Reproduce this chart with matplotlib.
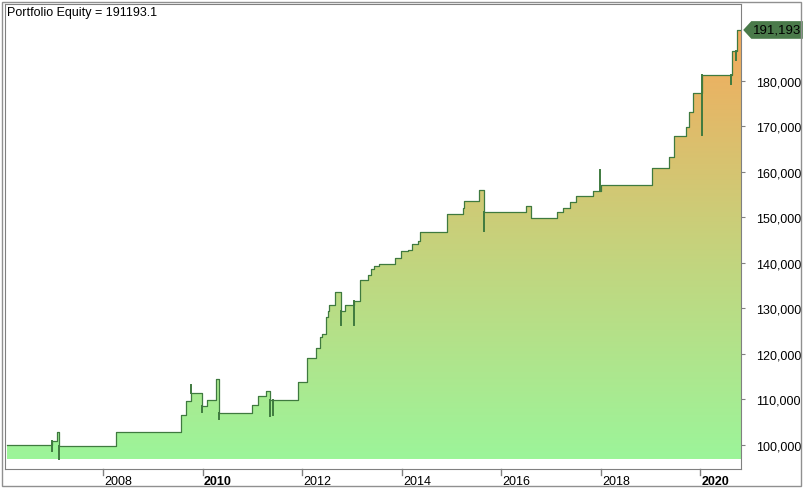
import matplotlib
matplotlib.use("Agg")
import matplotlib.pyplot as plt
import numpy as np
from matplotlib.colors import LinearSegmentedColormap
from matplotlib.patches import Polygon, Rectangle

plt.rcParams['font.family'] = ['Liberation Sans', 'DejaVu Sans']

# step equity curve: (decimal year, equity)
dates = [2006.07, 2006.97, 2007.07, 2007.11, 2008.26, 2009.57, 2009.67, 2009.77, 2009.99, 2010.09,
         2010.27, 2010.33, 2011.00, 2011.12, 2011.28, 2011.36, 2011.92, 2012.10, 2012.27, 2012.37,
         2012.41, 2012.49, 2012.53, 2012.55, 2012.67, 2012.79, 2012.87, 2013.05, 2013.17, 2013.33,
         2013.39, 2013.45, 2013.55, 2013.86, 2013.98, 2014.12, 2014.20, 2014.32, 2014.36, 2014.92,
         2015.24, 2015.26, 2015.55, 2015.65, 2016.49, 2016.59, 2017.13, 2017.24, 2017.38, 2017.50,
         2017.84, 2018.00, 2019.03, 2019.37, 2019.47, 2019.71, 2019.77, 2019.85, 2020.03, 2020.64,
         2020.74, 2020.82]
equity = [99900, 100900, 102800, 99700, 102800, 106600, 109700, 111400, 108600, 109900,
          114500, 107000, 108800, 110800, 111900, 109900, 113800, 119100, 121300, 123700,
          124400, 128100, 129500, 130800, 133600, 129500, 130800, 131600, 136300, 137400,
          138700, 139300, 139800, 141100, 142600, 142900, 144200, 144800, 146800, 150800,
          152100, 153600, 156000, 151200, 152500, 149900, 151200, 152100, 153400, 154700,
          155800, 157100, 160900, 163300, 167900, 169900, 173200, 177400, 181300, 186600,
          191193, 191193]
# intrabar spikes: (date, extreme value)
spike_dates = [2006.97, 2007.11, 2009.77, 2009.99, 2010.33, 2011.36, 2011.42, 2012.79, 2013.05,
               2015.65, 2017.98, 2020.03, 2020.62, 2020.72]
spike_vals = [98600, 96900, 113200, 107300, 105700, 106400, 106600, 126400, 126400,
              147000, 160400, 168100, 179300, 184600]
yticks = [100000, 110000, 120000, 130000, 140000, 150000, 160000, 170000, 180000]
xticks = [2008, 2010, 2012, 2014, 2016, 2018, 2020]
last_value = 191193.1

fig = plt.figure(figsize=(8.08, 4.89), dpi=100)
fig.patches.append(Rectangle((2/808, 2/489), 799/808, 484/489, transform=fig.transFigure,
                             fill=False, edgecolor='#909090', lw=1))
ax = fig.add_axes([5/808, 19/489, 736/808, 465/489])
ymin, ymax = 94700, 196900
xmin, xmax = 2006.03, 2020.82
base = 96900
ax.set_xlim(xmin, xmax)
ax.set_ylim(ymin, ymax)

fill = ax.fill_between(dates, equity, base, step='post', color='none', lw=0)
cmap = LinearSegmentedColormap.from_list('g', ['#9cf59a', '#c6d27c', '#f4aa5c'])
grad = np.linspace(0, 1, 256).reshape(-1, 1)
im = ax.imshow(grad, extent=[xmin, xmax, base, 191193], origin='lower', aspect='auto',
               cmap=cmap, zorder=1)
im.set_clip_path(fill.get_paths()[0], transform=ax.transData)
ax.step(dates, equity, where='post', color='#3f7a3f', lw=0.9, zorder=3)
for d, v in zip(spike_dates, spike_vals):
    lv = equity[np.searchsorted(dates, d, side='right') - 1]
    ax.plot([d, d], [lv, v], color='#3f7a3f', lw=1.4, zorder=3)

for s in ax.spines.values():
    s.set_color('#808080')
ax.set_xticks([])
ax.set_yticks(yticks)
ax.yaxis.tick_right()
ax.set_yticklabels([f'{v:,}' for v in yticks], fontsize=9)
ax.tick_params(axis='y', length=3, color='#808080', pad=8)
for t in xticks:
    ax.plot([t, t], [0, -0.012], transform=ax.get_xaxis_transform(), color='#808080',
            lw=1, clip_on=False)
    ax.text(t + 0.03, -0.012, str(t), transform=ax.get_xaxis_transform(), ha='left', va='top',
            fontsize=9, fontweight='bold' if t in (2010, 2020) else 'normal')
ax.text(0.003, 0.995, f'Portfolio Equity = {last_value}', transform=ax.transAxes,
        ha='left', va='top', fontsize=9)
# value tag
yv = ax.transAxes.inverted().transform(ax.transData.transform((0, last_value)))[1]
tr = ax.transAxes
h = 0.019
poly = Polygon([(1.003, yv), (1.014, yv + h), (1.084, yv + h), (1.084, yv - h), (1.014, yv - h)],
               closed=True, transform=tr, facecolor='#4a7a4a', edgecolor='none', clip_on=False)
ax.add_patch(poly)
ax.text(1.0485, yv, f'{round(last_value):,}', transform=tr, ha='center', va='center',
        fontsize=9.5, color='black')
fig.savefig('out.png', dpi=100)
